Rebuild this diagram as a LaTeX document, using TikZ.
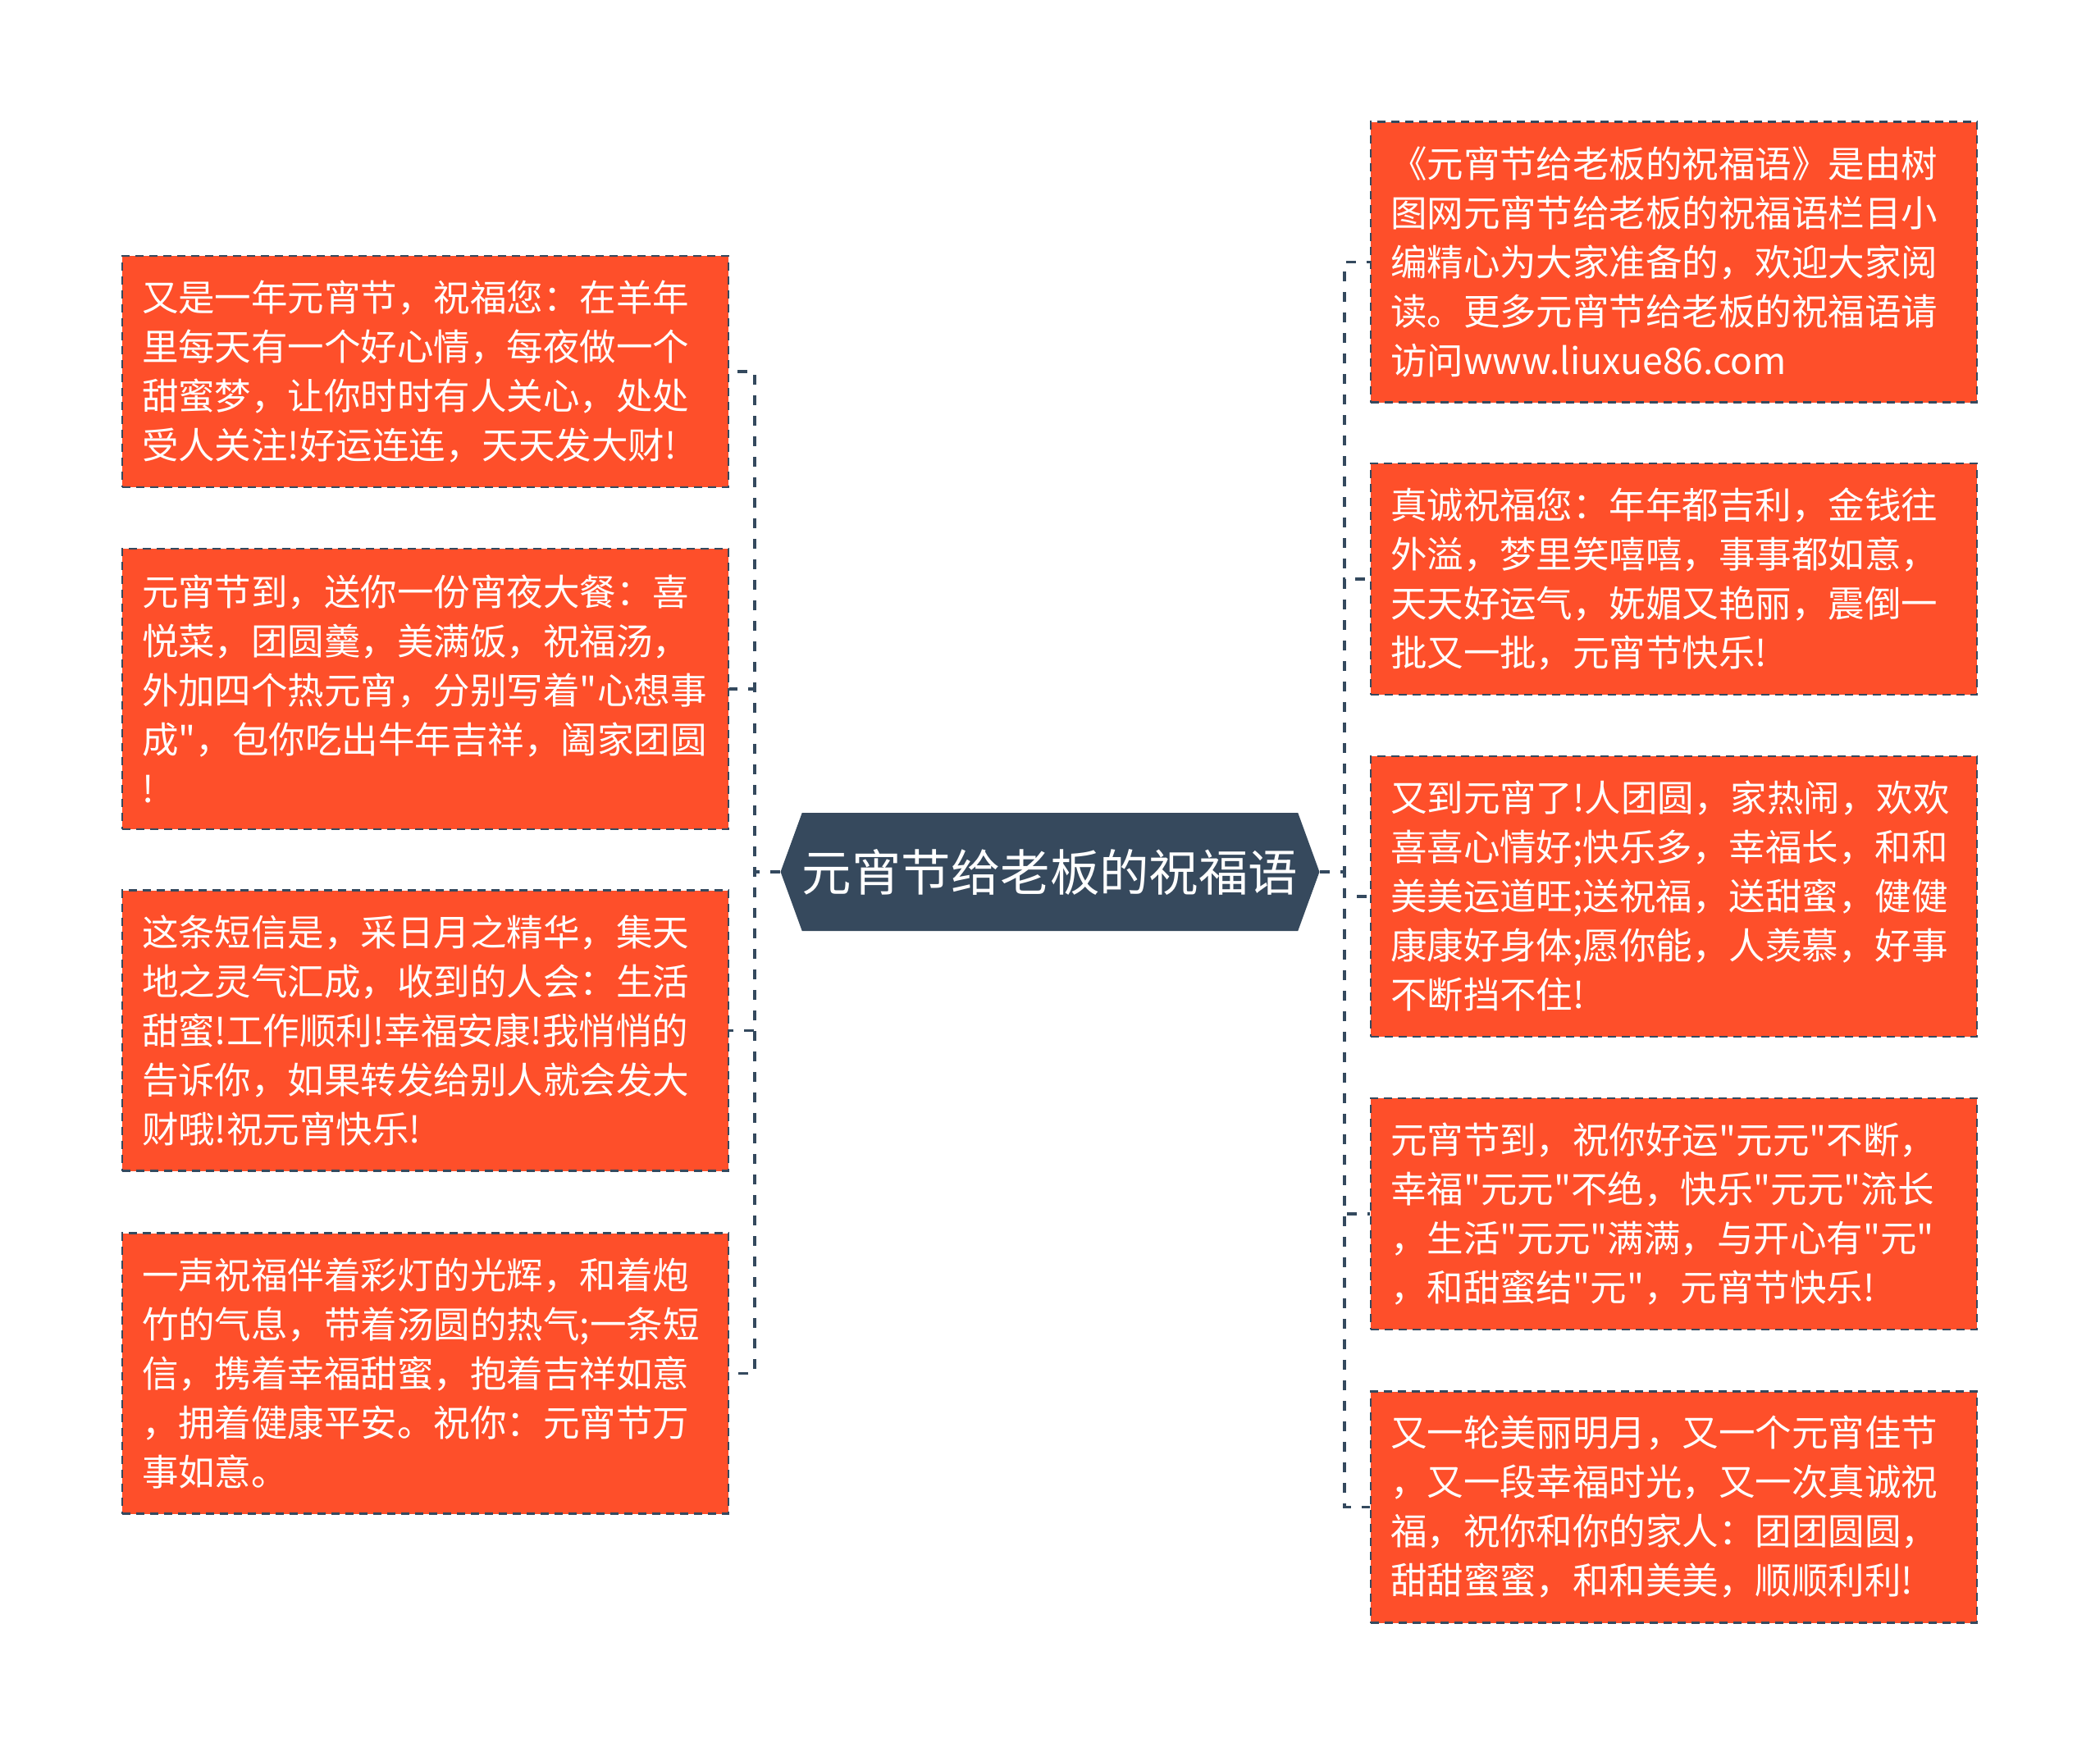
\documentclass[tikz,border=0pt]{standalone}
\usepackage{fontspec}
\setmainfont{Noto Sans CJK SC}[Ligatures=TeXOff]
\usepackage{tikz}
\usetikzlibrary{shapes.symbols}

\definecolor{boxfill}{HTML}{FE4F2A}
\definecolor{rootfill}{HTML}{36495D}
\definecolor{linkcol}{HTML}{34495E}

\begin{document}
\begin{tikzpicture}[
  leaf/.style={draw=linkcol, line width=0.6pt, dash pattern=on 0.1cm off 0.07cm,
    fill=boxfill, text=white, align=left, text width=6.91cm, inner xsep=0.24cm,
    inner ysep=0.1cm, font=\fontsize{12.66pt}{17.07pt}\selectfont},
  link/.style={draw=linkcol, line width=1.1pt, dash pattern=on 0.12cm off 0.13cm},
  root/.style={shape=signal, signal to=west and east, signal pointer angle=140,
    fill=rootfill, text=white, minimum width=6.04cm, minimum height=1.44cm,
    inner sep=0pt, font=\fontsize{17.2pt}{20pt}\selectfont}
]
\useasboundingbox (0,0) rectangle (25.6,-21.29);

\node[root] (root) at (12.80,-10.63) {元宵节给老板的祝福语};

% left side
\node[leaf, minimum height=2.82cm] (l1) at (5.185,-4.53) {又是一年元宵节，祝福您：在羊年\\里每天有一个好心情，每夜做一个\\甜蜜梦，让你时时有人关心，处处\\受人关注!好运连连，天天发大财!};
\node[leaf, minimum height=3.42cm] (l2) at (5.185,-8.40) {元宵节到，送你一份宵夜大餐：喜\\悦菜，团圆羹，美满饭，祝福汤，\\外加四个热元宵，分别写着"心想事\\成"，包你吃出牛年吉祥，阖家团圆\\!};
\node[leaf, minimum height=3.42cm] (l3) at (5.185,-12.565) {这条短信是，采日月之精华，集天\\地之灵气汇成，收到的人会：生活\\甜蜜!工作顺利!幸福安康!我悄悄的\\告诉你，如果转发给别人就会发大\\财哦!祝元宵快乐!};
\node[leaf, minimum height=3.42cm] (l4) at (5.185,-16.745) {一声祝福伴着彩灯的光辉，和着炮\\竹的气息，带着汤圆的热气;一条短\\信，携着幸福甜蜜，抱着吉祥如意\\，拥着健康平安。祝你：元宵节万\\事如意。};

% right side
\node[leaf, minimum height=3.42cm] (r1) at (20.405,-3.195) {《元宵节给老板的祝福语》是由树\\图网元宵节给老板的祝福语栏目小\\编精心为大家准备的，欢迎大家阅\\读。更多元宵节给老板的祝福语请\\访问www.liuxue86.com};
\node[leaf, minimum height=2.82cm] (r2) at (20.405,-7.06) {真诚祝福您：年年都吉利，金钱往\\外溢，梦里笑嘻嘻，事事都如意，\\天天好运气，妩媚又艳丽，震倒一\\批又一批，元宵节快乐!};
\node[leaf, minimum height=3.42cm] (r3) at (20.405,-10.93) {又到元宵了!人团圆，家热闹，欢欢\\喜喜心情好;快乐多，幸福长，和和\\美美运道旺;送祝福，送甜蜜，健健\\康康好身体;愿你能，人羡慕，好事\\不断挡不住!};
\node[leaf, minimum height=2.82cm] (r4) at (20.405,-14.80) {元宵节到，祝你好运"元元"不断，\\幸福"元元"不绝，快乐"元元"流长\\，生活"元元"满满，与开心有"元"\\，和甜蜜结"元"，元宵节快乐!};
\node[leaf, minimum height=2.82cm] (r5) at (20.405,-18.375) {又一轮美丽明月，又一个元宵佳节\\，又一段幸福时光，又一次真诚祝\\福，祝你和你的家人：团团圆圆，\\甜甜蜜蜜，和和美美，顺顺利利!};

\coordinate (lj) at (9.20,-10.63);
\coordinate (rj) at (16.39,-10.63);

\foreach \b in {l1,l2,l3,l4}
  \draw[link] (root.west) -- (lj) |- (\b.east);
\foreach \b in {r1,r2,r3,r4,r5}
  \draw[link] (root.east) -- (rj) |- (\b.west);
\end{tikzpicture}
\end{document}
